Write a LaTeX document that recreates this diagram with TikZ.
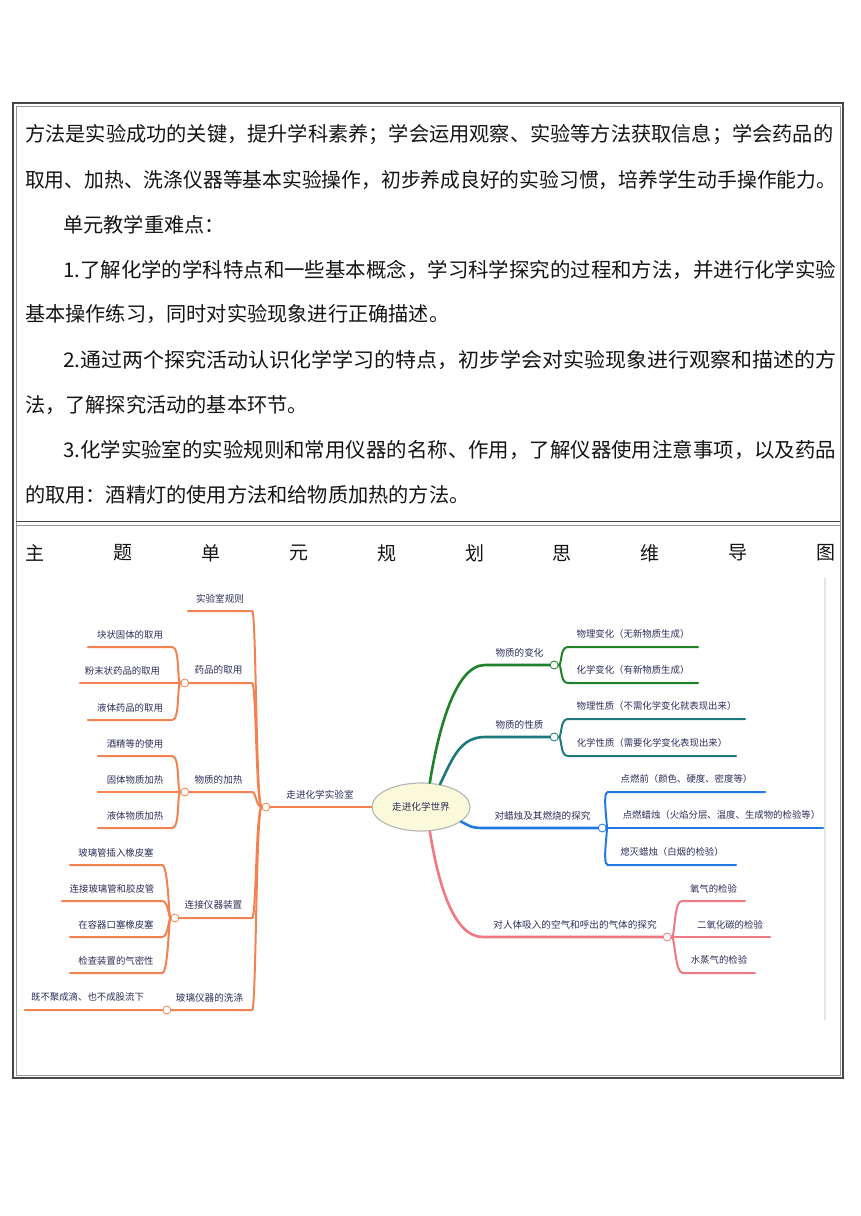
\documentclass[tikz,border=0pt]{standalone}
\usepackage{fontspec}
\setmainfont{Noto Sans CJK SC}
\setsansfont{Noto Sans CJK SC}
\usepackage{graphicx}
\usetikzlibrary{positioning, shapes.geometric, calc}
\definecolor{inkcol}{RGB}{20, 20, 20}
\definecolor{mapink}{RGB}{45, 45, 90}
\definecolor{framecol}{RGB}{70, 70, 70}
\definecolor{framelite}{RGB}{150, 150, 150}
\definecolor{orcol}{RGB}{242, 130, 80}
\definecolor{grcol}{RGB}{30, 130, 40}
\definecolor{tlcol}{RGB}{30, 120, 125}
\definecolor{blcol}{RGB}{35, 120, 225}
\definecolor{pkcol}{RGB}{240, 120, 130}
\definecolor{worldcol}{RGB}{250, 250, 218}
\definecolor{rimcol}{RGB}{185, 185, 185}
\newcommand{\fullline}[2]{\resizebox{#1}{\height}{#2}}
\tikzset{
  body/.style  = {anchor=west, inner sep=0pt, text=inkcol,
                  font=\fontsize{20.2}{24}\selectfont},
  ttl/.style   = {inner sep=0pt, text=inkcol, font=\fontsize{19}{22}\selectfont},
  world/.style = {ellipse, draw=rimcol, fill=worldcol, line width=1.2,
                  minimum width=98, minimum height=48, inner sep=0pt,
                  text=mapink, font=\fontsize{9.6}{12}\selectfont},
  br/.style    = {anchor=south, inner xsep=0pt, inner ysep=8pt, text=mapink,
                  font=\fontsize{9.6}{12}\selectfont},
  leaf/.style  = {br, font=\fontsize{9.4}{11}\selectfont},
  hub/.style   = {circle, fill=white, line width=0.8, minimum size=8,
                  inner sep=0pt},
  twig/.style  = {line width=2, line cap=round},
  limb/.style  = {line width=2.6, line cap=round},
}
\begin{document}
\begin{tikzpicture}[x=1pt, y=-1pt]
  \useasboundingbox (0,0) rectangle (860,1216);

  %% ---------------- the table ----------------
  \draw[framecol, line width=1.3] (13,103) rectangle (843,1078);
  \draw[framelite, line width=0.8] (16,106) rectangle (840,1075);
  \draw[framecol, line width=1] (16,521) -- (840,521);
  \draw[framelite, line width=0.8] (16,525) -- (840,525);

  %% ---------------- the text row ----------------
  \node[body] (t1) at (25,135) {\fullline{808pt}{方法是实验成功的关键，提升学科素养；学会运用观察、实验等方法获取信息；学会药品的}};
  \node[body] (t2) at (25,180) {\fullline{811pt}{取用、加热、洗涤仪器等基本实验操作，初步养成良好的实验习惯，培养学生动手操作能力。}};
  \node[body] (t3) at (63,225) {单元教学重难点：};
  \node[body] (t4) at (63,270) {\fullline{773pt}{1.了解化学的学科特点和一些基本概念，学习科学探究的过程和方法，并进行化学实验}};
  \node[body] (t5) at (25,314) {基本操作练习，同时对实验现象进行正确描述。};
  \node[body] (t6) at (63,360) {\fullline{773pt}{2.通过两个探究活动认识化学学习的特点，初步学会对实验现象进行观察和描述的方}};
  \node[body] (t7) at (25,405) {法，了解探究活动的基本环节。};
  \node[body] (t8) at (63,450) {\fullline{773pt}{3.化学实验室的实验规则和常用仪器的名称、作用，了解仪器使用注意事项，以及药品}};
  \node[body] (t9) at (25,495) {的取用：酒精灯的使用方法和给物质加热的方法。};

  %% ---------------- the heading of the map row ----------------
  \foreach \c [count=\i from 0] in {主,题,单,元,规,划,思,维,导,图}
    \node[ttl] (hd\i) at (35+\i*87.9, 553) {\c};

  %% ---------------- the mind map ----------------
  \draw[black!10, line width=2] (825,578) -- (825,1020);

  \node[world] (world) at (421,807) {走进化学世界};

  % left half: the laboratory
  \node[hub, draw=orcol] (lab) at (266,807) {};
  \node[br, minimum width=100] (labtxt) at (320,807) {走进化学实验室};

  \node[br, minimum width=64] (rule) at (220,611) {实验室规则};
  \node[br, minimum width=67] (take) at (218.5,683) {药品的取用};
  \node[br, minimum width=67] (heat) at (218.5,792) {物质的加热};
  \node[br, minimum width=77] (link) at (213.5,918) {连接仪器装置};
  \node[br, minimum width=85] (wash) at (209.5,1010) {玻璃仪器的洗涤};
  \node[hub, draw=orcol] (takehub) at (take.south west) {};
  \node[hub, draw=orcol] (heathub) at (heat.south west) {};
  \node[hub, draw=orcol] (linkhub) at (link.south west) {};
  \node[hub, draw=orcol] (washhub) at (wash.south west) {};

  \node[leaf, minimum width=84] (lump) at (130,647) {块状固体的取用};
  \node[leaf, minimum width=85] (powder) at (122.5,683) {粉末状药品的取用};
  \node[leaf, minimum width=84] (fluid) at (130,720) {液体药品的取用};
  \node[leaf, minimum width=74] (lamp) at (135,756) {酒精等的使用};
  \node[leaf, minimum width=74] (solidh) at (135,792) {固体物质加热};
  \node[leaf, minimum width=74] (fluidh) at (135,828) {液体物质加热};
  \node[leaf, minimum width=92] (plug) at (116,865) {玻璃管插入橡皮塞};
  \node[leaf, minimum width=100] (hose) at (112,901) {连接玻璃管和胶皮管};
  \node[leaf, minimum width=92] (stopper) at (116,937) {在容器口塞橡皮塞};
  \node[leaf, minimum width=92] (seal) at (116,973) {检查装置的气密性};
  \node[leaf, minimum width=125] (rinse) at (87.5,1010) {既不聚成滴、也不成股流下};

  \draw[limb, orcol] (world) -- (lab);
  \draw[twig, orcol] (lab) .. controls +(-10,0) and +(4,0) .. (rule.south east) -- (rule.south west);
  \draw[twig, orcol] (lab) .. controls +(-10,0) and +(4,0) .. (take.south east) -- (takehub);
  \draw[twig, orcol] (lab) .. controls +(-10,0) and +(4,0) .. (heat.south east) -- (heathub);
  \draw[twig, orcol] (lab) .. controls +(-10,0) and +(4,0) .. (link.south east) -- (linkhub);
  \draw[twig, orcol] (lab) .. controls +(-10,0) and +(4,0) .. (wash.south east) -- (washhub);

  \draw[twig, orcol] (takehub) .. controls +(-8,0) and +(8,0) .. (lump.south east) -- (lump.south west);
  \draw[twig, orcol] (takehub) -- (powder.south west);
  \draw[twig, orcol] (takehub) .. controls +(-8,0) and +(8,0) .. (fluid.south east) -- (fluid.south west);
  \draw[twig, orcol] (heathub) .. controls +(-8,0) and +(8,0) .. (lamp.south east) -- (lamp.south west);
  \draw[twig, orcol] (heathub) -- (solidh.south west);
  \draw[twig, orcol] (heathub) .. controls +(-8,0) and +(8,0) .. (fluidh.south east) -- (fluidh.south west);
  \draw[twig, orcol] (linkhub) .. controls +(-6,0) and +(6,0) .. (plug.south east) -- (plug.south west);
  \draw[twig, orcol] (linkhub) .. controls +(-6,0) and +(6,0) .. (hose.south east) -- (hose.south west);
  \draw[twig, orcol] (linkhub) .. controls +(-6,0) and +(6,0) .. (stopper.south east) -- (stopper.south west);
  \draw[twig, orcol] (linkhub) .. controls +(-6,0) and +(6,0) .. (seal.south east) -- (seal.south west);
  \draw[twig, orcol] (washhub) -- (rinse.south west);

  % right half: the world of chemistry
  \node[br, minimum width=69] (change) at (519.5,665) {物质的变化};
  \node[br, minimum width=69] (prop) at (519.5,737) {物质的性质};
  \node[br, minimum width=119] (candle) at (542.5,828) {对蜡烛及其燃烧的探究};
  \node[br, minimum width=184] (breath) at (575,937) {对人体吸入的空气和呼出的气体的探究};
  \node[hub, draw=grcol] (changehub) at (change.south east) {};
  \node[hub, draw=tlcol] (prophub) at (prop.south east) {};
  \node[hub, draw=blcol] (candlehub) at (candle.south east) {};
  \node[hub, draw=pkcol] (breathhub) at (breath.south east) {};

  \node[leaf, minimum width=130] (phys) at (633,647) {物理变化（无新物质生成）};
  \node[leaf, minimum width=130] (chem) at (633,683) {化学变化（有新物质生成）};
  \node[leaf, minimum width=177] (physp) at (656.5,719) {物理性质（不需化学变化就表现出来）};
  \node[leaf, minimum width=168] (chemp) at (652,756) {化学性质（需要化学变化表现出来）};
  \node[leaf, minimum width=157] (before) at (686.5,792) {点燃前（颜色、硬度、密度等）};
  \node[leaf, minimum width=203] (burn) at (721.5,828) {点燃蜡烛（火焰分层、温度、生成物的检验等）};
  \node[leaf, minimum width=128] (snuff) at (672,865) {熄灭蜡烛（白烟的检验）};
  \node[leaf, minimum width=63] (oxy) at (713.5,901) {氧气的检验};
  \node[leaf, minimum width=80] (carb) at (730,937) {二氧化碳的检验};
  \node[leaf, minimum width=72] (vapour) at (719,973) {水蒸气的检验};

  \draw[limb, grcol] (world.70) .. controls +(8,-50) and +(-30,0) .. (change.south west) -- (changehub);
  \draw[limb, tlcol] (world.50) .. controls +(12,-25) and +(-25,0) .. (prop.south west) -- (prophub);
  \draw[limb, blcol] (world.340) .. controls +(8,4) and +(-12,0) .. (candle.south west) -- (candlehub);
  \draw[limb, pkcol] (world.290) .. controls +(8,50) and +(-30,0) .. (breath.south west) -- (breathhub);

  \draw[twig, grcol] (changehub) .. controls +(8,0) and +(-8,0) .. (phys.south west) -- (phys.south east);
  \draw[twig, grcol] (changehub) .. controls +(8,0) and +(-8,0) .. (chem.south west) -- (chem.south east);
  \draw[twig, tlcol] (prophub) .. controls +(8,0) and +(-8,0) .. (physp.south west) -- (physp.south east);
  \draw[twig, tlcol] (prophub) .. controls +(8,0) and +(-8,0) .. (chemp.south west) -- (chemp.south east);
  \draw[twig, blcol] (candlehub) .. controls +(6,0) and +(-6,0) .. (before.south west) -- (before.south east);
  \draw[twig, blcol] (candlehub) -- (burn.south east);
  \draw[twig, blcol] (candlehub) .. controls +(6,0) and +(-6,0) .. (snuff.south west) -- (snuff.south east);
  \draw[twig, pkcol] (breathhub) .. controls +(8,0) and +(-8,0) .. (oxy.south west) -- (oxy.south east);
  \draw[twig, pkcol] (breathhub) -- (carb.south east);
  \draw[twig, pkcol] (breathhub) .. controls +(8,0) and +(-8,0) .. (vapour.south west) -- (vapour.south east);

\end{tikzpicture}
\end{document}
